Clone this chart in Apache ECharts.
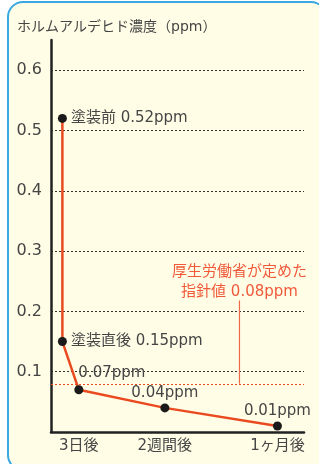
<!DOCTYPE html>
<html>
<head>
<meta charset="utf-8">
<script src="https://cdn.jsdelivr.net/npm/echarts@6/dist/echarts.min.js"></script>
<style>
    html, body { margin: 0; padding: 0; background: #ffffff; }
    #frame {
        position: absolute; left: 7px; top: 1px; width: 320px; height: 470px;
        box-sizing: border-box; border: 2px solid #3aa8e2; border-radius: 16px;
        background: #fffde6;
    }
    #chart { position: absolute; left: 0; top: 0; width: 319px; height: 464px; }
</style>
</head>
<body>
<div id="frame"></div>
<div id="chart"></div>
<script>
// --- データ ---
// 横軸は原図でも等間隔ではないので、軸上の位置 (0-100) で持つ
const pointNames = ['塗装前', '塗装直後', '3日後', '2週間後', '1ヶ月後'];
const pointPos = [4.5, 4.5, 11, 45, 89.5];
const ppmValues = [0.52, 0.15, 0.07, 0.04, 0.01];
const xTickPos = [11, 45, 89.5];
const xTickLabels = ['3日後', '2週間後', '1ヶ月後'];
const yTicks = [0.1, 0.2, 0.3, 0.4, 0.5, 0.6];
const guideValue = 0.08;
const guidePos = 74.5;
const guideTop = 0.218;

const font = '"DejaVu Sans", "Noto Sans CJK JP", sans-serif';
const textColor = '#454545';
const red = '#ea4a20';

// 各点のラベル位置 (原図の配置に合わせる)
const labelStyles = [
    { position: 'right', distance: 4 },
    { position: 'right', distance: 4 },
    { position: [4, -20], align: 'left' },
    { position: 'top', distance: 3 },
    { position: 'top', distance: 3 }
];

const chart = echarts.init(document.getElementById('chart'));

const seriesData = ppmValues.map((v, i) => ({
    value: [pointPos[i], v],
    label: Object.assign({
        show: true,
        formatter: (i < 2 ? pointNames[i] + ' ' : '') + v.toFixed(2) + 'ppm'
    }, labelStyles[i])
}));

const option = {
    animation: false,
    textStyle: { fontFamily: font },
    title: {
        text: 'ホルムアルデヒド濃度（ppm）',
        left: 12, top: 15,
        textStyle: { fontSize: 14, fontWeight: 'normal', color: textColor, fontFamily: font }
    },
    grid: { left: 51, right: 15, top: 40, bottom: 32, containLabel: false },
    xAxis: {
        type: 'value', min: 0, max: 100,
        axisLine: { show: true, onZero: false, lineStyle: { color: '#222', width: 2.5 } },
        axisTick: { show: false },
        splitLine: { show: false },
        axisLabel: {
            customValues: xTickPos,
            formatter: v => xTickLabels[xTickPos.indexOf(v)] || '',
            fontSize: 15, color: textColor, margin: 7, fontFamily: font
        }
    },
    yAxis: {
        type: 'value', min: 0, max: 0.65, interval: 0.1,
        axisLine: { show: true, lineStyle: { color: '#222', width: 2.5 } },
        axisTick: { show: false },
        axisLabel: {
            customValues: yTicks,
            formatter: v => v.toFixed(1),
            fontSize: 16, color: textColor, margin: 9, fontFamily: font
        },
        splitLine: {
            show: true, showMinLine: false, showMaxLine: false,
            lineStyle: { color: '#333', width: 1, type: [2, 2] }
        }
    },
    series: [
        {
            type: 'line',
            data: seriesData,
            symbol: 'circle', symbolSize: 9,
            itemStyle: { color: '#1a1a1a' },
            lineStyle: { color: red, width: 2.5 },
            label: { fontSize: 15, color: textColor, fontFamily: font },
            z: 5,
            markLine: {
                silent: true, symbol: 'none',
                lineStyle: { color: red, width: 1, type: [2, 2] },
                label: { show: false },
                data: [{ yAxis: guideValue }]
            }
        },
        {
            // 指針値の引き出し線
            type: 'line',
            data: [[guidePos, guideValue], [guidePos, guideTop]],
            symbol: 'none',
            lineStyle: { color: '#f06848', width: 1.2 },
            endLabel: {
                show: true,
                formatter: '厚生労働省が定めた\n指針値 0.08ppm',
                color: '#f05a3a', fontSize: 15, lineHeight: 20,
                align: 'center', verticalAlign: 'bottom',
                offset: [-8, 2], fontFamily: font
            },
            z: 2
        }
    ]
};

chart.setOption(option);
</script>
</body>
</html>
